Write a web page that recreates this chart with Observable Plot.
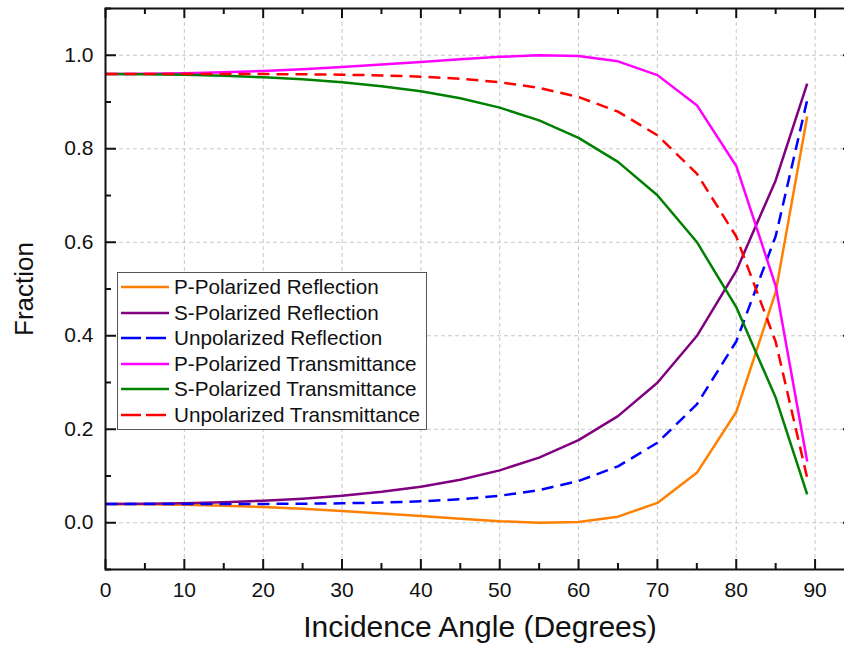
<!DOCTYPE html>
<html><head><meta charset="utf-8">
<script src="https://cdn.jsdelivr.net/npm/d3@7"></script>
<script src="https://cdn.jsdelivr.net/npm/@observablehq/plot@0.6"></script>
<style>
body{margin:0;background:#fff;font-family:"Liberation Sans",Arial,sans-serif}
#wrap{position:relative;width:844px;height:649px;overflow:hidden}
#legend{position:absolute;left:117px;top:272px;width:310px;height:158px;border:1px solid #555;background:#fff;box-sizing:border-box}
.row{position:absolute;left:2px;height:26px;display:flex;align-items:center;font-size:20.7px;color:#111;white-space:nowrap}
.row svg{margin-right:4px}
</style></head><body><div id="wrap"><div id="legend"></div></div>
<script>
const angles = [0,5,10,15,20,25,30,35,40,45,50,55,60,65,70,75,80,85,89];
const pReflection = [0.040,0.0396,0.0384,0.0363,0.0335,0.0298,0.0253,0.0200,0.0143,0.0085,0.0033,0.0002,0.0018,0.0130,0.0425,0.1068,0.2368,0.4932,0.8688];
const sReflection = [0.040,0.0404,0.0417,0.0438,0.0471,0.0516,0.0578,0.0661,0.0772,0.0920,0.1121,0.1393,0.1766,0.2281,0.2996,0.3994,0.5386,0.7323,0.9395];
const uReflection = [0.040,0.0400,0.0401,0.0401,0.0403,0.0407,0.0416,0.0431,0.0458,0.0503,0.0577,0.0698,0.0892,0.1206,0.1711,0.2531,0.3877,0.6128,0.9042];
const pTransmittance = [0.960,0.9604,0.9616,0.9637,0.9665,0.9702,0.9747,0.9800,0.9857,0.9915,0.9967,0.9998,0.9982,0.9870,0.9575,0.8932,0.7632,0.5068,0.1312];
const sTransmittance = [0.960,0.9596,0.9583,0.9562,0.9529,0.9484,0.9422,0.9339,0.9228,0.9080,0.8879,0.8607,0.8234,0.7719,0.7004,0.6006,0.4614,0.2677,0.0605];
const uTransmittance = [0.960,0.9600,0.9599,0.9599,0.9597,0.9593,0.9584,0.9569,0.9542,0.9497,0.9423,0.9302,0.9108,0.8794,0.8289,0.7469,0.6123,0.3872,0.0958];

const seriesNames = ["P-Polarized Reflection","S-Polarized Reflection","Unpolarized Reflection","P-Polarized Transmittance","S-Polarized Transmittance","Unpolarized Transmittance"];
const seriesValues = [pReflection,sReflection,uReflection,pTransmittance,sTransmittance,uTransmittance];
const seriesColors = ["#FF8000","#800080","#0000FF","#FF00FF","#008000","#FF0000"];
const seriesDashed = [false,false,true,false,false,true];

const xMajor = [0,10,20,30,40,50,60,70,80,90];
const xMinor = [5,15,25,35,45,55,65,75,85,95];
const yMajor = [0,0.2,0.4,0.6,0.8,1.0];
const yMinor = [-0.1,0.1,0.3,0.5,0.7,0.9,1.1];

const W = 844, H = 649, mL = 105, mT = 8, mR = -10, mB = 80;
const plotH = H - mT - mB, plotW = W - mL - mR;

const lineMarks = seriesNames.map((name, s) => {
  const data = angles.map((a, i) => ({angle: a, value: seriesValues[s][i]}));
  return Plot.line(data, {x: "angle", y: "value", stroke: seriesColors[s], strokeWidth: 2.5,
    strokeDasharray: seriesDashed[s] ? "12,7" : null, strokeLinejoin: "round", strokeLinecap: "butt"});
});

const tick = {stroke: "#111", strokeWidth: 2};
const chart = Plot.plot({
  width: W, height: H, marginLeft: mL, marginTop: mT, marginRight: mR, marginBottom: mB,
  style: {fontFamily: "'Liberation Sans', Arial, sans-serif", background: "white", color: "#111", overflow: "hidden"},
  x: {domain: [0, 95]},
  y: {domain: [-0.1, 1.1]},
  marks: [
    Plot.gridX(xMajor, {stroke: "#c8c8c8", strokeOpacity: 1, strokeDasharray: "4,3", strokeWidth: 1}),
    Plot.gridY(yMajor, {stroke: "#c8c8c8", strokeOpacity: 1, strokeDasharray: "4,3", strokeWidth: 1}),
    ...lineMarks,
    Plot.ruleX(xMajor, {x: d => d, insetTop: plotH - 10, ...tick}),
    Plot.ruleX(xMinor, {x: d => d, insetTop: plotH - 6, ...tick}),
    Plot.ruleX(xMajor, {x: d => d, insetBottom: plotH - 10, ...tick}),
    Plot.ruleX(xMinor, {x: d => d, insetBottom: plotH - 6, ...tick}),
    Plot.ruleY(yMajor, {y: d => d, insetRight: plotW - 11, ...tick}),
    Plot.ruleY(yMinor, {y: d => d, insetRight: plotW - 6, ...tick}),
    Plot.ruleY(yMajor, {y: d => d, insetLeft: plotW - 11, ...tick}),
    Plot.ruleY(yMinor, {y: d => d, insetLeft: plotW - 6, ...tick}),
    Plot.frame({stroke: "#111", strokeWidth: 2}),
    Plot.axisX({ticks: xMajor, tickSize: 0, tickPadding: 13, fontSize: 21, label: null}),
    Plot.axisY({ticks: yMajor, tickSize: 0, tickPadding: 12, fontSize: 21, label: null, tickFormat: d3.format(".1f")}),
    Plot.text(["Incidence Angle (Degrees)"], {frameAnchor: "bottom", textAnchor: "middle", lineAnchor: "middle", dy: 58, fontSize: 30, fill: "#111"}),
    Plot.text(["Fraction"], {frameAnchor: "left", textAnchor: "middle", lineAnchor: "middle", dx: -81, rotate: -90, fontSize: 26, fill: "#111"})
  ]
});
const wrap = document.getElementById("wrap");
wrap.insertBefore(chart, wrap.firstChild);
chart.style.position = "absolute"; chart.style.left = "0"; chart.style.top = "0";

const legend = document.getElementById("legend");
seriesNames.forEach((name, s) => {
  const row = document.createElement("div");
  row.className = "row";
  row.style.top = (1 + s * 25.6) + "px";
  row.innerHTML = `<svg width="50" height="10"><line x1="1" x2="49" y1="5" y2="5" stroke="${seriesColors[s]}" stroke-width="2.5" ${seriesDashed[s] ? 'stroke-dasharray="20,5"' : ''}/></svg><span>${name}</span>`;
  legend.appendChild(row);
});
</script>
</body></html>
